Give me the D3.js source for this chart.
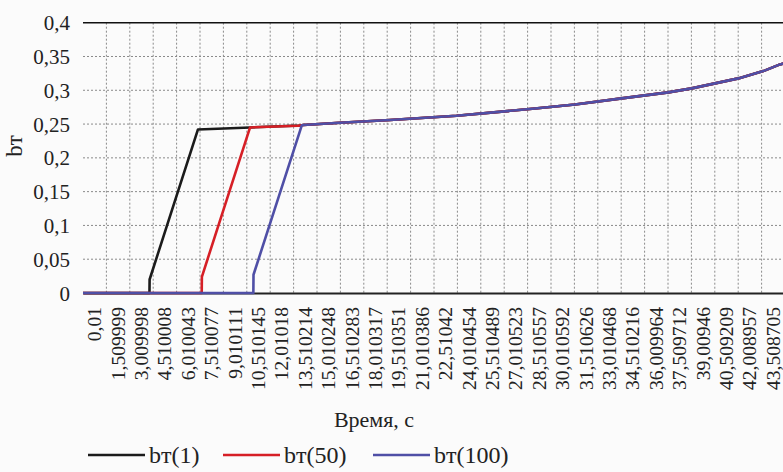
<!DOCTYPE html>
<html>
<head>
<meta charset="utf-8">
<script src="https://cdn.jsdelivr.net/npm/d3@7"></script>
<style>
  body { margin: 0; background: #fbfbfb; }
  svg { display: block; }
</style>
</head>
<body>
<svg id="chart" width="783" height="472" font-family="'Liberation Serif', 'DejaVu Serif', serif"></svg>
<script>
// tick labels of the category axis (time, s)
const xLabels = ["0,01", "1,509999", "3,009998", "4,510008", "6,010043", "7,510077", "9,010111",
  "10,510145", "12,01018", "13,510214", "15,010248", "16,510283", "18,010317", "19,510351",
  "21,010386", "22,51042", "24,010454", "25,510489", "27,010523", "28,510557", "30,010592",
  "31,510626", "33,010468", "34,510216", "36,009964", "37,509712", "39,00946", "40,509209",
  "42,008957", "43,508705"];
const yTicks = [0, 0.05, 0.1, 0.15, 0.2, 0.25, 0.3, 0.35, 0.4];

// shared part of all three curves after they merge
const tailT = [14.13, 16.48, 19.69, 23.96, 28.98, 31.55, 34.54, 37.53, 39.03, 42.02, 43.62, 44.69, 45.0];
const tailV = [0.2485, 0.2519, 0.256, 0.2623, 0.273, 0.279, 0.288, 0.2969, 0.3028, 0.3176, 0.3284, 0.3383, 0.340];

// bт(1)
const b1T = [0.01, 4.27, 4.28, 7.38, 10.72, 13.9];
const b1V = [0, 0, 0.02, 0.242, 0.245, 0.2478];
// bт(50)
const b50T = [0.01, 7.62, 7.63, 10.72, 13.79];
const b50V = [0, 0, 0.024, 0.245, 0.2475];
// bт(100)
const b100T = [0.01, 10.93, 10.94, 14.03];
const b100V = [0, 0, 0.027, 0.2478];

const names = ["bт(1)", "bт(50)", "bт(100)"];
const colors = ["#1b1b1b", "#d61f26", "#4f4fa6"];

function zipPts(ts, vs) {
  return ts.map((t, i) => ({ t: t, v: vs[i] }));
}
const tail = zipPts(tailT, tailV);
const series = [
  zipPts(b1T, b1V).concat(tail),
  zipPts(b50T, b50V).concat(tail),
  zipPts(b100T, b100V).concat(tail)
];

const svg = d3.select("#chart");
const mLeft = 83, band = 23.4, mTop = 22.7, mBottom = 293;
const mRight = mLeft + band * xLabels.length;
const txt = "#222";

let xBand = d3.scaleBand().domain(xLabels).range([mLeft, mRight]).padding(0);
let xTime = d3.scaleLinear().domain([0.01, 45.01]).range([mLeft, mRight]);
let y = d3.scaleLinear().domain([0, 0.4]).range([mBottom, mTop]);

// horizontal grid
svg.append("g")
  .selectAll("line")
  .data(yTicks.filter(d => d > 0 && d < 0.4))
  .join("line")
  .attr("x1", mLeft).attr("x2", mRight)
  .attr("y1", d => y(d)).attr("y2", d => y(d))
  .attr("stroke", "#8a8a8a")
  .attr("stroke-width", 1)
  .attr("stroke-dasharray", "2,2");

// vertical grid on the category boundaries
svg.append("g")
  .selectAll("line")
  .data(xLabels.slice(0, -1))
  .join("line")
  .attr("x1", d => xBand(d) + xBand.bandwidth()).attr("x2", d => xBand(d) + xBand.bandwidth())
  .attr("y1", mTop).attr("y2", mBottom)
  .attr("stroke", "#8a8a8a")
  .attr("stroke-width", 1)
  .attr("stroke-dasharray", "2,2");

// top line at 0.4
svg.append("line")
  .attr("x1", mLeft).attr("x2", mRight)
  .attr("y1", y(0.4)).attr("y2", y(0.4))
  .attr("stroke", "#111").attr("stroke-width", 1.5);

let yAxis = g => g
  .attr("transform", `translate(${mLeft - 10},0)`)
  .call(d3.axisLeft(y).tickValues(yTicks).tickSize(0)
    .tickFormat(d => d3.format("~g")(d).replace(".", ",")))
  .attr("font-family", null)
  .attr("font-size", 21)
  .call(g => g.select(".domain").remove())
  .call(g => g.selectAll("text").attr("fill", txt).attr("dy", "0.34em"));
svg.append("g").call(yAxis);

let xAxis = g => g
  .attr("transform", `translate(0,${mBottom})`)
  .call(d3.axisBottom(xBand).tickSize(0))
  .attr("font-family", null)
  .attr("font-size", 19.5)
  .call(g => g.select(".domain").attr("stroke", "#222").attr("stroke-width", 2))
  .call(g => g.selectAll("text")
    .attr("fill", txt)
    .attr("text-anchor", "end")
    .attr("transform", "rotate(-90)")
    .attr("x", -14)
    .attr("y", 0)
    .attr("dy", "0.33em"));
svg.append("g").call(xAxis);

// curves
let line = d3.line()
  .x(d => xTime(d.t))
  .y(d => y(d.v));

svg.append("g")
  .selectAll("path")
  .data(series)
  .join("path")
  .attr("d", line)
  .attr("fill", "none")
  .attr("stroke", (d, i) => colors[i])
  .attr("stroke-width", 2.6)
  .attr("stroke-linejoin", "round");

// axis titles
svg.append("text")
  .attr("x", 374).attr("y", 427)
  .attr("text-anchor", "middle")
  .attr("font-size", 22)
  .attr("fill", txt)
  .text("Время, с");

svg.append("text")
  .attr("transform", "translate(22,146) rotate(-90)")
  .attr("text-anchor", "middle")
  .attr("font-size", 23)
  .attr("fill", txt)
  .text("bт");

// legend
const legX = [88, 223, 373];
let leg = svg.append("g")
  .selectAll("g")
  .data(names)
  .join("g")
  .attr("transform", (d, i) => `translate(${legX[i]},455)`);
leg.append("line")
  .attr("x1", 0).attr("x2", 57)
  .attr("stroke", (d, i) => colors[i])
  .attr("stroke-width", 2.4);
leg.append("text")
  .attr("x", 61).attr("y", 8)
  .attr("font-size", 24)
  .attr("fill", txt)
  .text(d => d);
</script>
</body>
</html>
